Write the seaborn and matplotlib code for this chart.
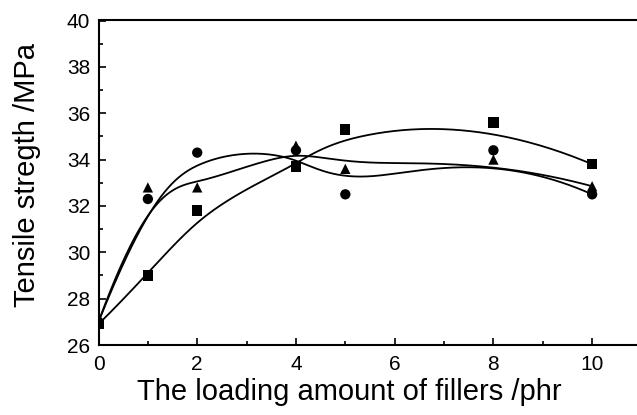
import numpy as np
import pandas as pd
import matplotlib
matplotlib.use("Agg")
import matplotlib.pyplot as plt
import seaborn as sns
from matplotlib.ticker import MultipleLocator

# data
loading = [0, 1, 2, 4, 5, 8, 10]
square_vals = [26.9, 29.0, 31.8, 33.7, 35.3, 35.6, 33.8]
circle_vals = [27.0, 32.3, 34.3, 34.4, 32.5, 34.4, 32.5]
triangle_vals = [27.0, 32.8, 32.8, 34.6, 33.6, 34.0, 32.85]
series_names = ["square", "circle", "triangle"]
series_markers = {"square": "s", "circle": "o", "triangle": "^"}


def basis(i, k, knots, u):
    # Cox-de Boor recursion
    if k == 0:
        last = knots[i + 1] == knots[-1]
        hi = (u <= knots[i + 1]) if last else (u < knots[i + 1])
        return ((u >= knots[i]) & hi).astype(float)
    out = np.zeros_like(u)
    d1 = knots[i + k] - knots[i]
    d2 = knots[i + k + 1] - knots[i + 1]
    if d1 > 0:
        out += (u - knots[i]) / d1 * basis(i, k - 1, knots, u)
    if d2 > 0:
        out += (knots[i + k + 1] - u) / d2 * basis(i + 1, k - 1, knots, u)
    return out


def bspline(xs, ys, deg=3, n=300):
    # clamped B-spline with the data points as control points (Origin style)
    m = len(xs)
    inner = list(range(1, m - deg))
    knots = np.array([0] * (deg + 1) + inner + [m - deg] * (deg + 1), dtype=float)
    u = np.linspace(0, m - deg, n)
    bx = np.zeros(n)
    by = np.zeros(n)
    for i in range(m):
        b = basis(i, deg, knots, u)
        bx += b * xs[i]
        by += b * ys[i]
    return bx, by


points = pd.DataFrame({
    "loading": loading * 3,
    "strength": square_vals + circle_vals + triangle_vals,
    "series": sum([[s] * len(loading) for s in series_names], []),
})

curves = []
for name, vals in zip(series_names, [square_vals, circle_vals, triangle_vals]):
    cx, cy = bspline(np.array(loading, float), np.array(vals, float))
    curves.append(pd.DataFrame({"x": cx, "y": cy, "series": name}))
curves = pd.concat(curves, ignore_index=True)

sns.set_style("ticks")
plt.rcParams["font.family"] = ["Liberation Sans", "DejaVu Sans"]
plt.rcParams["text.color"] = "black"
plt.rcParams["axes.labelcolor"] = "black"

fig = plt.figure(figsize=(6.37, 4.15), dpi=100)
ax = fig.add_axes([98.5 / 637, 70 / 415, 543 / 637, 324.5 / 415])

sns.lineplot(data=curves, x="x", y="y", units="series", estimator=None, sort=False,
             color="black", linewidth=1.3, ax=ax, legend=False)
sns.scatterplot(data=points, x="loading", y="strength", style="series",
                markers=series_markers, color="black", s=55, linewidth=0,
                ax=ax, legend=False, zorder=3)

ax.set_xlim(0, 11)
ax.set_ylim(26, 40)
ax.xaxis.set_major_locator(MultipleLocator(2))
ax.xaxis.set_minor_locator(MultipleLocator(1))
ax.yaxis.set_major_locator(MultipleLocator(2))
ax.yaxis.set_minor_locator(MultipleLocator(1))
ax.tick_params(which="both", direction="in", width=1.2, labelsize=15, colors="black")
ax.tick_params(which="major", length=5, pad=6)
ax.tick_params(which="minor", length=3)
ax.tick_params(axis="x", which="major", pad=7)
for side in ["left", "bottom", "top"]:
    ax.spines[side].set_linewidth(1.5)
    ax.spines[side].set_color("black")
ax.spines["right"].set_visible(False)

ax.set_xlabel("The loading amount of fillers /phr", fontsize=21, labelpad=3,
              color="black", x=0.461)
ax.set_ylabel("Tensile stregth /MPa", fontsize=21, color="black")
ax.yaxis.set_label_coords(-0.106, 0.524)

fig.savefig("out.png", dpi=100)
